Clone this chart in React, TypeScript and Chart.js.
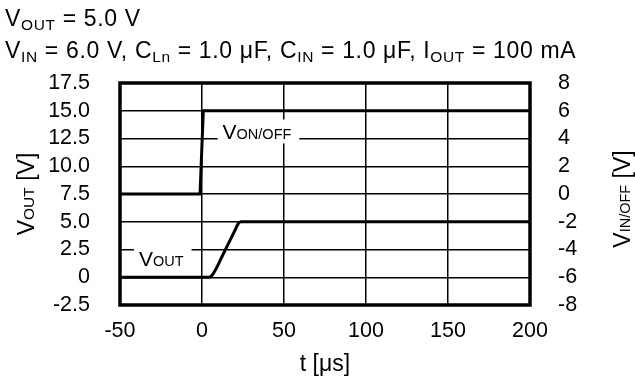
import React, { useEffect, useRef } from "react";
import { Chart, registerables } from "chart.js";

Chart.register(...registerables);

// ---- data ----
const voutTime = [-50, 4, 6, 8, 12, 16, 20, 22, 23.5, 200];
const voutValue = [0, 0, 0.15, 0.6, 1.8, 3.0, 4.2, 4.8, 5.0, 5.0];

const vonTime = [-50, -1.2, 0.8, 200];
const vonValue = [0, 0, 6, 6];

const xTicks = ["-50", "0", "50", "100", "150", "200"];
const leftTicks = ["-2.5", "0", "2.5", "5.0", "7.5", "10.0", "12.5", "15.0", "17.5"];
const rightTicks = ["-8", "-6", "-4", "-2", "0", "2", "4", "6", "8"];

// in-plot series labels: [main, small-caps part], left edge (t), baseline (left axis value)
const labelMain = ["V", "V"];
const labelSmall = ["ON/OFF", "OUT"];
const labelT = [9.5, -41.5];
const labelV = [12.5, 1.0];

const FONT = '"Liberation Sans", Arial, Helvetica, sans-serif';

type Seg = { t: string; s: number; dy?: number };

function richWidth(ctx: CanvasRenderingContext2D, segs: Seg[]) {
  let w = 0;
  for (const g of segs) {
    ctx.font = `${g.s}px ${FONT}`;
    w += ctx.measureText(g.t).width;
  }
  return w;
}

function drawRich(ctx: CanvasRenderingContext2D, segs: Seg[], x: number, y: number, align: "left" | "center") {
  const w = richWidth(ctx, segs);
  let cx = align === "center" ? x - w / 2 : x;
  ctx.textAlign = "left";
  ctx.textBaseline = "alphabetic";
  for (const g of segs) {
    ctx.font = `${g.s}px ${FONT}`;
    ctx.fillText(g.t, cx, y + (g.dy || 0));
    cx += ctx.measureText(g.t).width;
  }
}

const MAIN = 23;
const SUB = 15.5;
const LMAIN = 21;
const LSUB = 14.5;

const decor = {
  id: "decor",
  beforeDatasetsDraw(chart: any) {
    const ctx: CanvasRenderingContext2D = chart.ctx;
    const xs = chart.scales.x;
    const ys = chart.scales.y;
    ctx.save();
    for (let i = 0; i < labelMain.length; i++) {
      const segs: Seg[] = [
        { t: labelMain[i], s: LMAIN },
        { t: labelSmall[i], s: LSUB },
      ];
      const x0 = xs.getPixelForValue(labelT[i]);
      const base = ys.getPixelForValue(labelV[i]);
      const w = richWidth(ctx, segs);
      ctx.fillStyle = "#fff";
      ctx.fillRect(x0, base - 19, w + 13, 24);
      ctx.fillStyle = "#000";
      drawRich(ctx, segs, x0 + 5, base, "left");
    }
    ctx.restore();
  },
  afterDatasetsDraw(chart: any) {
    const ctx: CanvasRenderingContext2D = chart.ctx;
    const a = chart.chartArea;
    ctx.save();
    ctx.strokeStyle = "#000";
    ctx.lineWidth = 3.5;
    ctx.strokeRect(a.left, a.top, a.right - a.left, a.bottom - a.top);
    ctx.restore();
  },
  afterDraw(chart: any) {
    const ctx: CanvasRenderingContext2D = chart.ctx;
    const a = chart.chartArea;
    ctx.save();
    ctx.fillStyle = "#000";
    (ctx as any).letterSpacing = "0.65px";
    drawRich(
      ctx,
      [
        { t: "V", s: MAIN },
        { t: "OUT", s: SUB, dy: 4 },
        { t: " = 5.0 V", s: MAIN },
      ],
      5,
      26,
      "left"
    );
    drawRich(
      ctx,
      [
        { t: "V", s: MAIN },
        { t: "IN", s: SUB, dy: 4 },
        { t: " = 6.0 V, C", s: MAIN },
        { t: "Ln", s: SUB, dy: 4 },
        { t: " = 1.0 \u03bcF, C", s: MAIN },
        { t: "IN", s: SUB, dy: 4 },
        { t: " = 1.0 \u03bcF, I", s: MAIN },
        { t: "OUT", s: SUB, dy: 4 },
        { t: " = 100 mA", s: MAIN },
      ],
      5,
      58,
      "left"
    );
    (ctx as any).letterSpacing = "0px";
    // x title
    drawRich(ctx, [{ t: "t [\u03bcs]", s: MAIN }], (a.left + a.right) / 2, 371, "center");
    // left y title
    ctx.save();
    ctx.translate(33.5, (a.top + a.bottom) / 2);
    ctx.rotate(-Math.PI / 2);
    drawRich(
      ctx,
      [
        { t: "V", s: MAIN },
        { t: "OUT", s: SUB },
        { t: " [V]", s: MAIN },
      ],
      0,
      0,
      "center"
    );
    ctx.restore();
    // right y title
    ctx.save();
    ctx.translate(630, (a.top + a.bottom) / 2 + 5);
    ctx.rotate(-Math.PI / 2);
    drawRich(
      ctx,
      [
        { t: "V", s: MAIN },
        { t: "IN/OFF", s: 14.5 },
        { t: " [V]", s: MAIN },
      ],
      0,
      0,
      "center"
    );
    ctx.restore();
    ctx.restore();
  },
};

export default function App() {
  const ref = useRef<HTMLCanvasElement | null>(null);
  useEffect(() => {
    if (!ref.current) return;
    const tickFont = { family: FONT, size: 21.5 };
    const chart = new Chart(ref.current, {
      type: "line",
      data: {
        datasets: [
          {
            label: "VOUT",
            data: voutTime.map((t, i) => ({ x: t, y: voutValue[i] })),
            yAxisID: "y",
            borderColor: "#000",
            borderWidth: 3,
            pointRadius: 0,
            cubicInterpolationMode: "monotone",
            fill: false,
          },
          {
            label: "VON/OFF",
            data: vonTime.map((t, i) => ({ x: t, y: vonValue[i] })),
            yAxisID: "y1",
            borderColor: "#000",
            borderWidth: 3,
            pointRadius: 0,
            tension: 0,
            fill: false,
          },
        ],
      },
      options: {
        responsive: false,
        animation: false,
        layout: { padding: { top: 83, left: 0, right: 0, bottom: 0 } },
        plugins: { legend: { display: false }, tooltip: { enabled: false } },
        scales: {
          x: {
            type: "linear",
            min: -50,
            max: 200,
            ticks: {
              stepSize: 50,
              autoSkip: false,
              font: tickFont,
              color: "#000",
              padding: 13,
              maxRotation: 0,
              callback: (_v: any, i: number) => xTicks[i],
            },
            grid: { color: "#000", lineWidth: 1.5, drawTicks: false },
            border: { display: false },
            afterFit: (s: any) => {
              s.height = 72;
            },
          },
          y: {
            position: "left",
            min: -2.5,
            max: 17.5,
            ticks: {
              stepSize: 2.5,
              autoSkip: false,
              font: tickFont,
              color: "#000",
              padding: 30,
              callback: (_v: any, i: number) => leftTicks[i],
            },
            grid: { color: "#000", lineWidth: 1.5, drawTicks: false },
            border: { display: false },
            afterFit: (s: any) => {
              s.width = 120;
            },
          },
          y1: {
            position: "right",
            min: -8,
            max: 8,
            ticks: {
              stepSize: 2,
              autoSkip: false,
              font: tickFont,
              color: "#000",
              padding: 28,
              callback: (_v: any, i: number) => rightTicks[i],
            },
            grid: { display: false, drawTicks: false },
            border: { display: false },
            afterFit: (s: any) => {
              s.width = 105;
            },
          },
        },
      } as any,
      plugins: [decor],
    });
    return () => chart.destroy();
  }, []);
  return (
    <div style={{ position: "fixed", left: 0, top: 0, width: 635, height: 377, background: "#fff" }}>
      <canvas ref={ref} width={635} height={377} style={{ display: "block" }} />
    </div>
  );
}
